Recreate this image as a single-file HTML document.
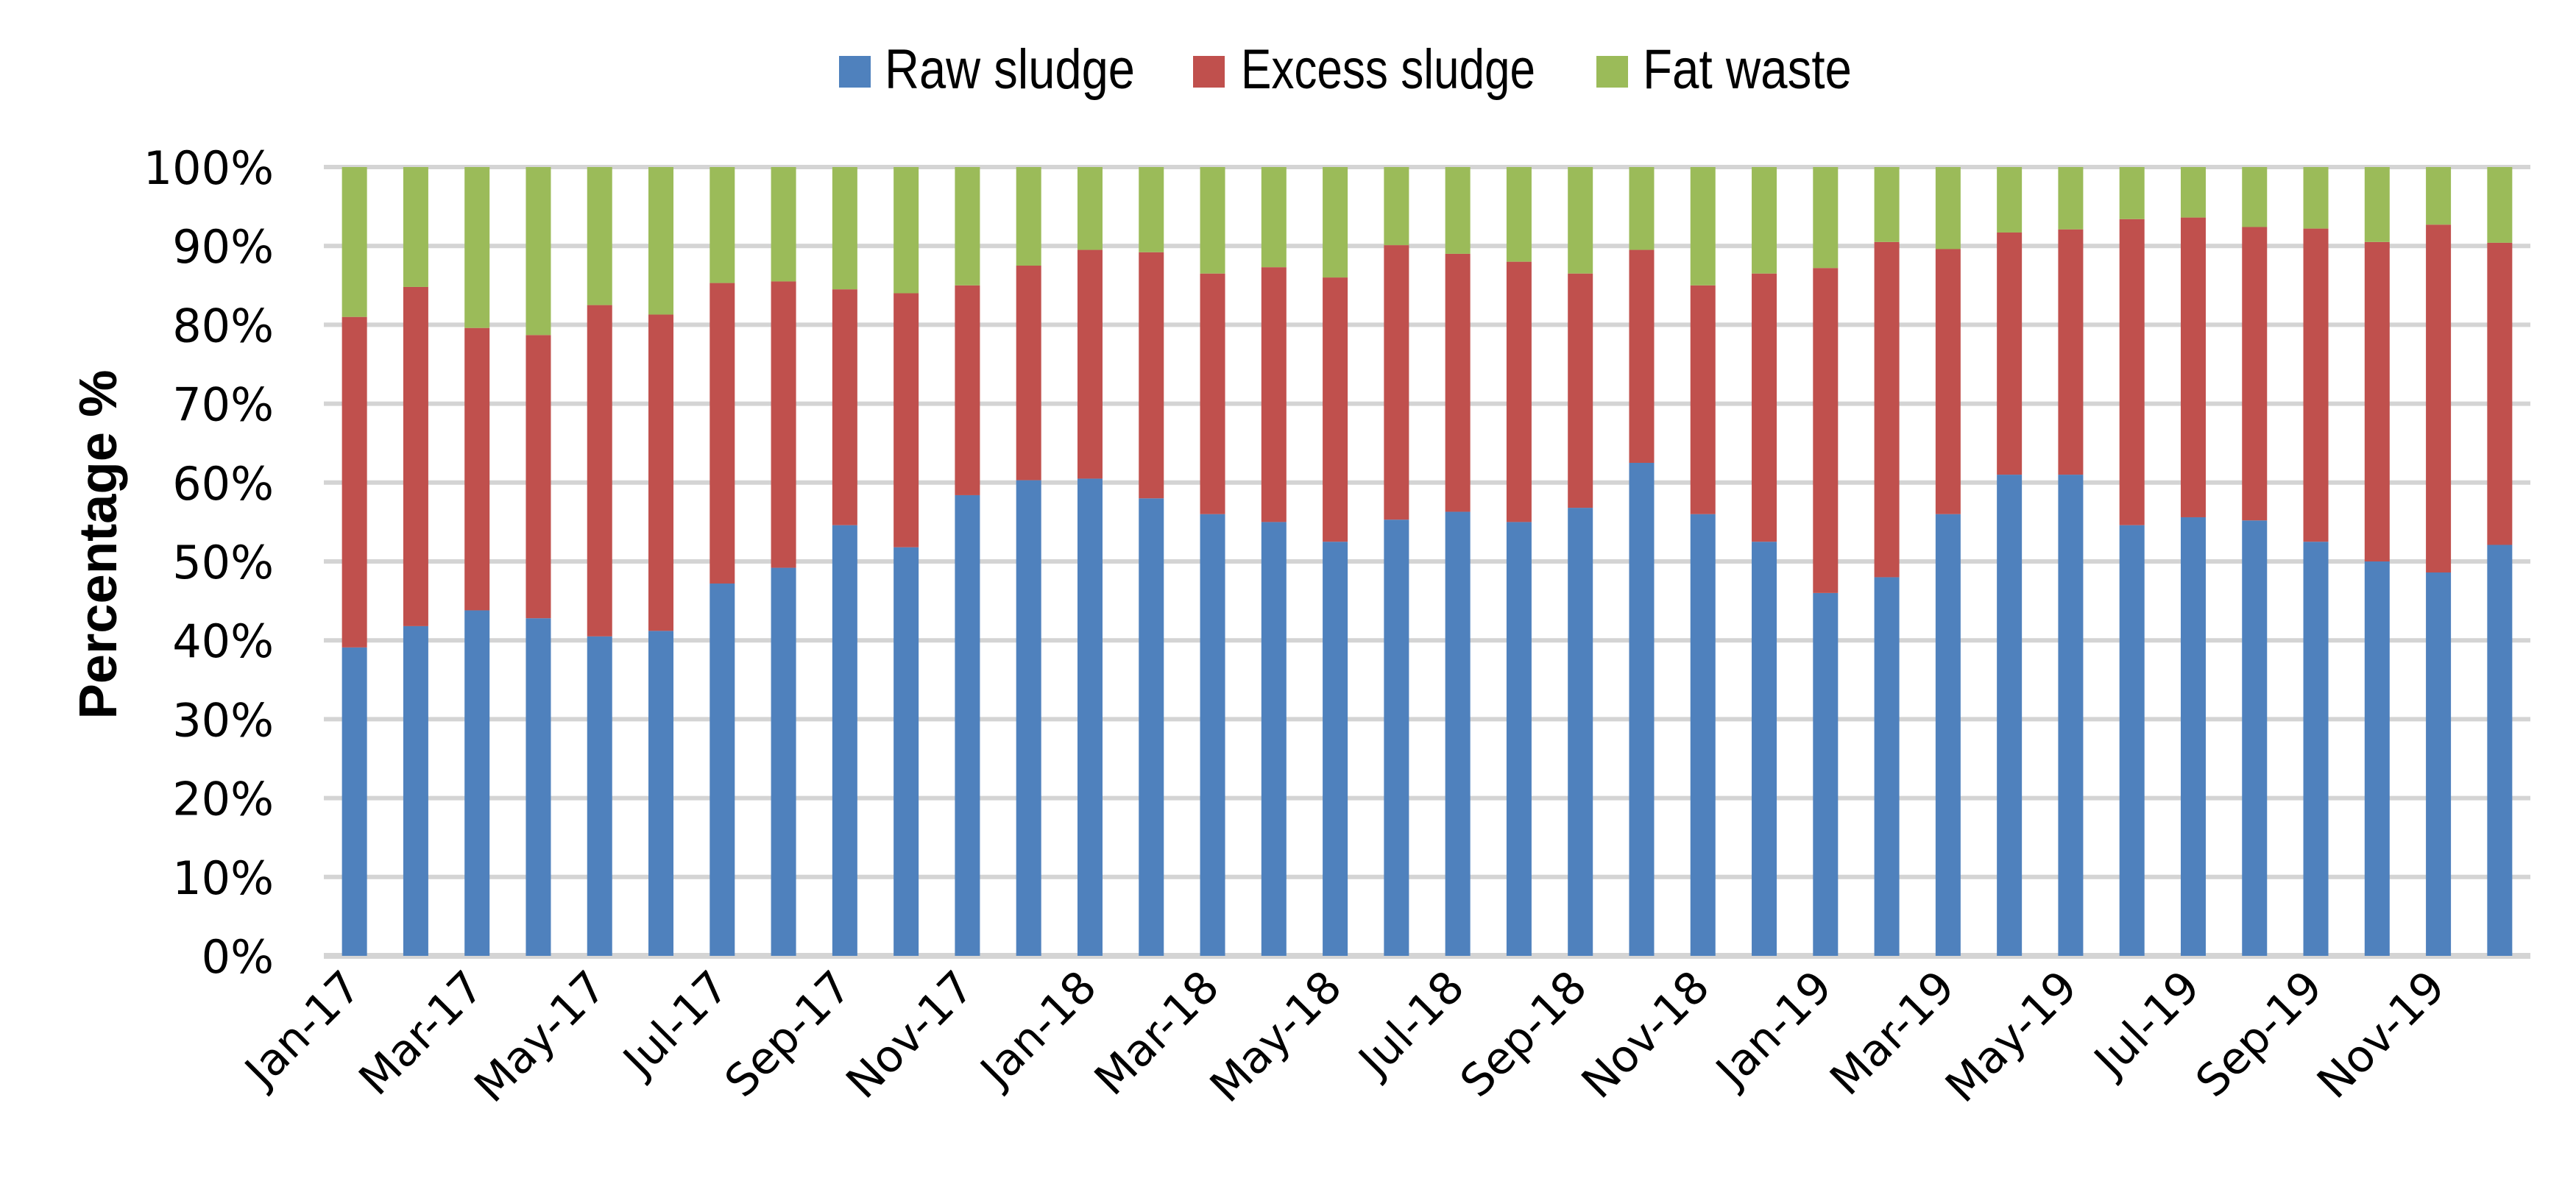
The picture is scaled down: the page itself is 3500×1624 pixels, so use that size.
<!DOCTYPE html>
<html><head><meta charset="utf-8"><style>
body{margin:0;background:#fff}
svg{display:block}
text{font-family:"DejaVu Sans","Liberation Sans",sans-serif;fill:#000}
</style></head><body>
<svg id="chart" width="3500" height="1624" xmlns="http://www.w3.org/2000/svg">
<g id="legend">
<g>
<rect x="1140" y="76" width="43" height="43" fill="#4f81bd"/>
<text x="1202" y="120" font-size="76" textLength="340" lengthAdjust="spacingAndGlyphs" style="font-family:'Liberation Sans',sans-serif">Raw sludge</text></g>
<g>
<rect x="1621" y="76" width="43" height="43" fill="#c0504d"/>
<text x="1686" y="120" font-size="76" textLength="400" lengthAdjust="spacingAndGlyphs" style="font-family:'Liberation Sans',sans-serif">Excess sludge</text></g>
<g>
<rect x="2169" y="76" width="43" height="43" fill="#9bbb59"/>
<text x="2232" y="120" font-size="76" textLength="284" lengthAdjust="spacingAndGlyphs" style="font-family:'Liberation Sans',sans-serif">Fat waste</text></g>
</g>
<text transform="translate(133,740) rotate(-90)" text-anchor="middle" font-size="72" font-weight="bold" textLength="475" lengthAdjust="spacingAndGlyphs" style="font-family:'Liberation Sans',sans-serif" dy="25">Percentage %</text>
<g id="grid"></g><g id="bars"></g><g id="yticks"></g><g id="xticks"></g>
</svg>
<script>
const categories=["Jan-17","Feb-17","Mar-17","Apr-17","May-17","Jun-17","Jul-17","Aug-17","Sep-17","Oct-17","Nov-17","Dec-17","Jan-18","Feb-18","Mar-18","Apr-18","May-18","Jun-18","Jul-18","Aug-18","Sep-18","Oct-18","Nov-18","Dec-18","Jan-19","Feb-19","Mar-19","Apr-19","May-19","Jun-19","Jul-19","Aug-19","Sep-19","Oct-19","Nov-19","Dec-19"];
const rawSludge=[39.1,41.8,43.8,42.8,40.5,41.2,47.2,49.2,54.6,51.8,58.4,60.3,60.5,58,56,55,52.5,55.3,56.3,55,56.8,62.5,56,52.5,46,48,56,61,61,54.6,55.6,55.2,52.5,50,48.6,52.1];
const excessSludge=[41.9,43,35.8,35.9,42,40.1,38.1,36.3,29.9,32.2,26.6,27.2,29,31.2,30.5,32.3,33.5,34.8,32.7,33,29.7,27,29,34,41.2,42.5,33.6,30.7,31.1,38.8,38,37.2,39.7,40.5,44.1,38.3];
const fatWaste=rawSludge.map((r,i)=>+(100-r-excessSludge[i]).toFixed(1));
const yTickValues=[0,10,20,30,40,50,60,70,80,90,100];
const yTickLabels=["0%","10%","20%","30%","40%","50%","60%","70%","80%","90%","100%"];
const X0=440,X1=3438,Y0=1299,Y100=227,BW=34;
const NS="http://www.w3.org/2000/svg";
const band=(X1-X0)/categories.length;
const xc=i=>X0+band*(i+0.5);
const y=v=>Y0-(Y0-Y100)*v/100;
function mk(tag,attrs,parent){const e=document.createElementNS(NS,tag);for(const k in attrs)e.setAttribute(k,attrs[k]);parent.appendChild(e);return e;}
const grid=document.getElementById('grid'),bars=document.getElementById('bars'),yt=document.getElementById('yticks'),xt=document.getElementById('xticks');
yTickValues.forEach((v,i)=>{
 const l=mk('line',{x1:X0,x2:X1,y1:y(v),y2:y(v),stroke:'#d4d4d4','stroke-width':v===0?8:6},grid);
 
 
 const t=mk('text',{x:372,y:y(v)+23,'text-anchor':'end','font-size':62},yt);
 t.textContent=yTickLabels[i];
 
 
});
const series=[[rawSludge,'#4f81bd','raw'],[excessSludge,'#c0504d','excess'],[fatWaste,'#9bbb59','fat']];
categories.forEach((c,i)=>{
 let base=0;
 series.forEach(([arr,col,nm])=>{
  const v=arr[i];
  const r=mk('rect',{x:xc(i)-BW/2,y:y(base+v),width:BW,height:y(base)-y(base+v),fill:col},bars);
  
  
  base+=v;
 });
 if(i%2===0){
  const t=mk('text',{transform:`translate(${xc(i)+12},${1345}) rotate(-45)`,'text-anchor':'end','font-size':60},xt);
  t.textContent=c;
  
  
 }
});
</script>
</body></html>
